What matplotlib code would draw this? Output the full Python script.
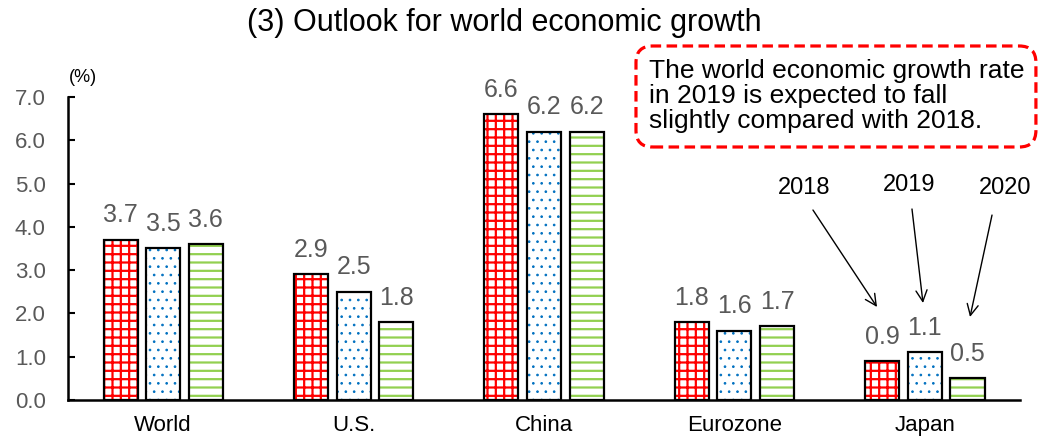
import matplotlib
matplotlib.use("Agg")
import matplotlib.pyplot as plt
import numpy as np
from matplotlib.patches import FancyBboxPatch

plt.rcParams['font.family'] = ['Liberation Sans', 'DejaVu Sans']

# Data
regions = ["World", "U.S.", "China", "Eurozone", "Japan"]
years = ["2018", "2019", "2020"]
growth_2018 = [3.7, 2.9, 6.6, 1.8, 0.9]
growth_2019 = [3.5, 2.5, 6.2, 1.6, 1.1]
growth_2020 = [3.6, 1.8, 6.2, 1.7, 0.5]
yticks = [0.0, 1.0, 2.0, 3.0, 4.0, 5.0, 6.0, 7.0]

series = [growth_2018, growth_2019, growth_2020]
hatch_colors = ["#FF0000", "#0070C0", "#92D050"]
hatches = ["++", "..", "--"]
hatch_widths = [1.6, 0.7, 1.6]

fig = plt.figure(figsize=(10.38, 4.38), dpi=100)
ax = fig.add_axes([0.0655, 0.0868, 0.9172, 0.6917])

x = np.arange(len(regions))
width = 0.179
step = 0.224
for i, (vals, hc, h, hw) in enumerate(zip(series, hatch_colors, hatches, hatch_widths)):
    pos = x + (i - 1) * step
    plt.rcParams['hatch.linewidth'] = hw
    bars = ax.bar(pos, vals, width, color="white", edgecolor=hc, hatch=h, linewidth=0)
    for b in bars:
        if hasattr(b, "set_hatch_linewidth"):
            b.set_hatch_linewidth(hw)
    ax.bar(pos, vals, width, fill=False, edgecolor="black", linewidth=1.6)
    for px, v in zip(pos, vals):
        ax.annotate(f"{v:.1f}", (px, v), xytext=(0, 9), textcoords="offset points",
                    ha="center", va="bottom", fontsize=18, color="#595959")

ax.set_xlim(-0.5, len(regions) - 0.5)
ax.set_ylim(0, 7)
ax.set_yticks(yticks)
ax.set_yticklabels([f"{t:.1f}" for t in yticks], fontsize=16, color="#595959")
ax.set_xticks(x)
ax.set_xticklabels(regions, fontsize=16)
ax.tick_params(axis="x", length=0, pad=11)
ax.tick_params(axis="y", direction="in", length=5, width=1.5, pad=16)
for s in ["top", "right"]:
    ax.spines[s].set_visible(False)
for s in ["left", "bottom"]:
    ax.spines[s].set_linewidth(1.8)

fig.text(0.08, 0.824, "(%)", fontsize=13, ha="center", va="center")
fig.text(0.486, 0.9475, "(3) Outlook for world economic growth", fontsize=22,
         ha="center", va="center")

# Callout box
box = FancyBboxPatch((0.6127, 0.6644), 0.3853, 0.2306, transform=fig.transFigure,
                     boxstyle="round,pad=0,rounding_size=0.016",
                     facecolor="white", edgecolor="#FF0000", linewidth=2.3,
                     linestyle=(0, (3.3, 1.7)), mutation_aspect=2.37)
fig.patches.append(box)
fig.text(0.625, 0.781,
         "The world economic growth rate\nin 2019 is expected to fall\nslightly compared with 2018.",
         fontsize=19, ha="left", va="center", linespacing=1.05)

# Year pointers for the Japan group
label_pos = [(0.7745, 0.571), (0.8757, 0.578), (0.9682, 0.571)]
tail_pos = [(0.7832, 0.5205), (0.8786, 0.5228), (0.9557, 0.509)]
tip_pos = [(0.8449, 0.2991), (0.8892, 0.3082), (0.9345, 0.2763)]
for yr, lp, tp, hp in zip(years, label_pos, tail_pos, tip_pos):
    fig.text(lp[0], lp[1], yr, fontsize=17, ha="center", va="center")
    ax.annotate("", xy=hp, xycoords="figure fraction",
                xytext=tp, textcoords="figure fraction",
                arrowprops=dict(arrowstyle="->", color="black", lw=1.0,
                                mutation_scale=20, shrinkA=0, shrinkB=0),
                annotation_clip=False)

fig.savefig("out.png", dpi=100)
